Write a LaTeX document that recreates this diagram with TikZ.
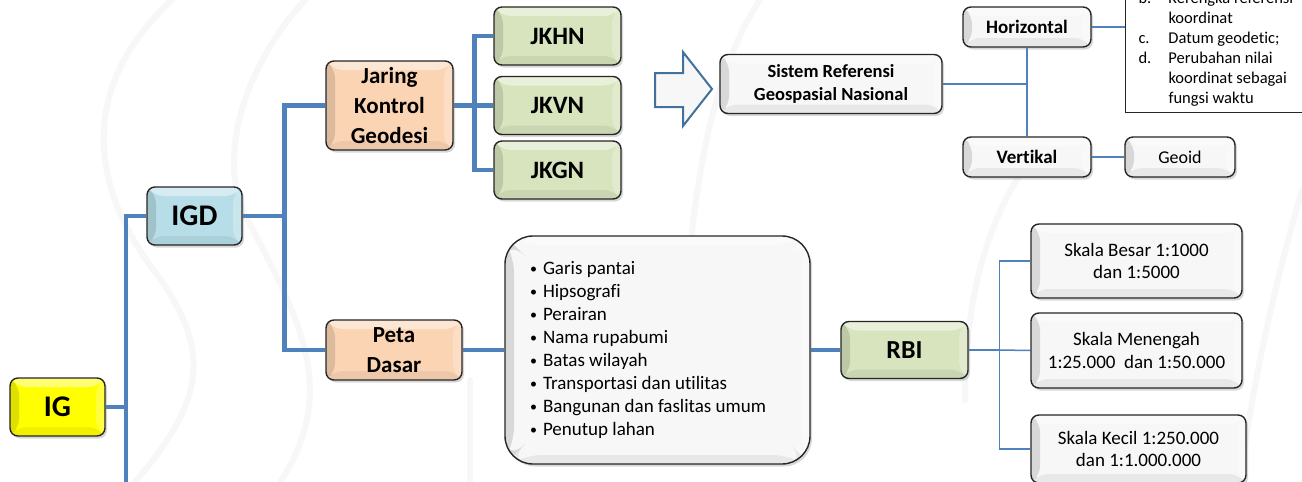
\documentclass[tikz,border=0pt]{standalone}
\usepackage{fontspec}
\setmainfont{Carlito}[Ligatures=NoCommon]
\usetikzlibrary{shadows}
\pgfdeclarelayer{swirl}
\pgfdeclarelayer{background}
\pgfsetlayers{swirl,background,main}

\definecolor{linkblue}{HTML}{4F81BD}
\definecolor{arrowblue}{HTML}{41719C}
\definecolor{igyellow}{HTML}{FFFF00}
\definecolor{igdblue}{HTML}{B7DEE8}
\definecolor{peach}{HTML}{FBD4B4}
\definecolor{leaf}{HTML}{D7E4BD}
\definecolor{paper}{HTML}{F7F7F7}

\newcommand\itm{\makebox[13pt][l]{\raisebox{1pt}{\fontsize{14}{14}\selectfont\textbullet}}}

\tikzset{
  bevel/.style={path picture={
    \fill[white,opacity=.45]
      (path picture bounding box.north west) -- (path picture bounding box.north east)
      -- ([xshift=-9pt,yshift=-9pt]path picture bounding box.north east)
      -- ([xshift=9pt,yshift=-9pt]path picture bounding box.north west) -- cycle;
    \fill[black,opacity=.12]
      (path picture bounding box.north west) -- ([xshift=9pt,yshift=-9pt]path picture bounding box.north west)
      -- ([xshift=9pt,yshift=9pt]path picture bounding box.south west)
      -- (path picture bounding box.south west) -- cycle;
    \fill[black,opacity=.06]
      (path picture bounding box.south west) -- (path picture bounding box.south east)
      -- ([xshift=-9pt,yshift=9pt]path picture bounding box.south east)
      -- ([xshift=9pt,yshift=9pt]path picture bounding box.south west) -- cycle;
    \fill[white,opacity=.25]
      (path picture bounding box.north east) -- (path picture bounding box.south east)
      -- ([xshift=-9pt,yshift=9pt]path picture bounding box.south east)
      -- ([xshift=-9pt,yshift=-9pt]path picture bounding box.north east) -- cycle;
  }},
  box/.style={rectangle, rounded corners=8pt, draw=black!85, line width=1.4pt,
    inner sep=0pt, align=center,
    drop shadow={shadow xshift=2pt, shadow yshift=-2.5pt, opacity=.3},
    bevel},
  plain/.style={box, fill=paper},
  thicklink/.style={draw=linkblue, line width=4.5pt},
  thinlink/.style={draw=linkblue, line width=1.5pt},
  swirlline/.style={draw=black!3, line width=6pt, line cap=round},
}

\begin{document}
\begin{tikzpicture}[x=1pt,y=-1pt]
\useasboundingbox (0,0) rectangle (1302,482);

% white page with faint decorative swirls
\begin{pgfonlayer}{swirl}
  \fill[white] (0,0) rectangle (1302,482);
  \draw[swirlline] (172,0) .. controls (85,80) and (85,175) .. (150,265)
                          .. controls (215,350) and (205,400) .. (135,482);
  \draw[swirlline] (305,0) .. controls (250,60) and (215,150) .. (245,215)
                          .. controls (300,320) and (340,390) .. (280,482);
  \draw[swirlline] (760,0) .. controls (720,60) and (700,150) .. (690,250);
  \draw[swirlline] (1045,140) .. controls (995,200) and (965,280) .. (965,400);
  \draw[swirlline] (470,380) -- (470,482);
  \draw[swirlline] (1302,190) .. controls (1270,300) and (1250,400) .. (1240,482);
\end{pgfonlayer}

% root and first level
\node[box, fill=igyellow, minimum width=95, minimum height=58,
      font=\fontsize{30}{36}\selectfont\bfseries] (ig) at (57.5,407) {IG};
\node[box, fill=igdblue, minimum width=95, minimum height=58,
      font=\fontsize{30}{36}\selectfont\bfseries] (igd) at (194.5,216) {IGD};

% geodetic control network branch
\node[box, fill=peach, minimum width=127, minimum height=89,
      font=\fontsize{23}{30}\selectfont\bfseries] (jkg) at (389.5,105.5) {Jaring\\Kontrol\\Geodesi};
\node[box, fill=leaf, minimum width=127, minimum height=58,
      font=\fontsize{25}{30}\selectfont\bfseries] (jkhn) at (557.5,36) {JKHN};
\node[box, fill=leaf, minimum width=127, minimum height=58,
      font=\fontsize{25}{30}\selectfont\bfseries] (jkvn) at (557.5,105.5) {JKVN};
\node[box, fill=leaf, minimum width=127, minimum height=58,
      font=\fontsize{25}{30}\selectfont\bfseries] (jkgn) at (557.5,170) {JKGN};

% hollow block arrow
\draw[arrowblue, line width=2pt, fill=paper, line join=miter]
  (655,73) -- (683,73) -- (683,52) -- (712,89) -- (683,126) -- (683,107) -- (655,107) -- cycle;

\node[plain, minimum width=222, minimum height=59,
      font=\fontsize{18.5}{23}\selectfont\bfseries] (srgn) at (831,84)
      {Sistem Referensi\\Geospasial Nasional};
\node[plain, minimum width=128, minimum height=40,
      font=\fontsize{19}{23}\selectfont\bfseries] (hor) at (1027,27) {Horizontal};
\node[plain, minimum width=128, minimum height=40,
      font=\fontsize{19}{23}\selectfont\bfseries] (ver) at (1027,157) {Vertikal};
\node[plain, minimum width=110, minimum height=40,
      font=\fontsize{18}{22}\selectfont] (geoid) at (1180,157) {Geoid};

\node[rectangle, draw=black!85, line width=1pt, fill=white, anchor=south west,
      inner xsep=13pt, inner ysep=6pt, text width=180pt, align=flush left,
      font=\fontsize{16.5}{20}\selectfont] (defs) at (1125,113)
  {\makebox[30pt][l]{b.}Kerengka referensi\\
   \hspace*{30pt}koordinat\\
   \makebox[30pt][l]{c.}Datum geodetic;\\
   \makebox[30pt][l]{d.}Perubahan nilai\\
   \hspace*{30pt}koordinat sebagai\\
   \hspace*{30pt}fungsi waktu};

% base map branch
\node[box, fill=peach, minimum width=136, minimum height=60,
      font=\fontsize{23}{30}\selectfont\bfseries] (peta) at (394,350) {Peta\\Dasar};
\node[plain, rounded corners=28pt, minimum width=305, minimum height=228,
      text width=255pt, align=flush left, font=\fontsize{19}{23}\selectfont] (feat) at (657.5,350)
  {\itm Garis pantai\\
   \itm Hipsografi\\
   \itm Perairan\\
   \itm Nama rupabumi\\
   \itm Batas wilayah\\
   \itm Transportasi dan utilitas\\
   \itm Bangunan dan faslitas umum\\
   \itm Penutup lahan};
\node[box, fill=leaf, minimum width=127, minimum height=57,
      font=\fontsize{26}{30}\selectfont\bfseries] (rbi) at (904.5,350) {RBI};
\node[plain, minimum width=211, minimum height=74,
      font=\fontsize{19}{22.7}\selectfont] (sb) at (1136.5,261) {Skala Besar 1:1000\\dan 1:5000};
\node[plain, minimum width=211, minimum height=75,
      font=\fontsize{19}{22.7}\selectfont] (sm) at (1136.5,350.5) {Skala Menengah\\1:25.000~ dan 1:50.000};
\node[plain, minimum width=215, minimum height=68,
      font=\fontsize{19}{22.7}\selectfont] (sk) at (1138.5,449) {Skala Kecil 1:250.000\\dan 1:1.000.000};

\coordinate (igdown) at (126,495);

% connectors
\begin{pgfonlayer}{background}
  \draw[thicklink] (igd.west) -| (igdown);
  \draw[thicklink] (ig.east) -- (ig.east -| igdown);
  \draw[thicklink] (igd.east) -- ++(42,0) coordinate (igdfork);
  \draw[thicklink] (jkg.west) -| (igdfork) |- (peta.west);
  \draw[thicklink] (jkg.east) -- ++(21,0) coordinate (jkfork);
  \draw[thicklink] (jkhn.west) -| (jkfork) |- (jkgn.west);
  \draw[thicklink] (jkfork) -- (jkvn.west);
  \draw[thicklink] (peta.east) -- (feat.west);
  \draw[thicklink] (feat.east) -- (rbi.west);
  \draw[thinlink] (rbi.east) -- ++(31,0) coordinate (rbifork);
  \draw[thinlink] (sb.west) -| (rbifork) |- (sk.west);
  \draw[thinlink] (rbifork) -- (sm.west);
  \draw[thinlink] (srgn.east) -- (srgn.east -| hor.south);
  \draw[thinlink] (hor.south) -- (ver.north);
  \draw[thinlink] (hor.east) -- (hor.east -| defs.west);
  \draw[thinlink] (ver.east) -- (geoid.west);
\end{pgfonlayer}
\end{tikzpicture}
\end{document}
